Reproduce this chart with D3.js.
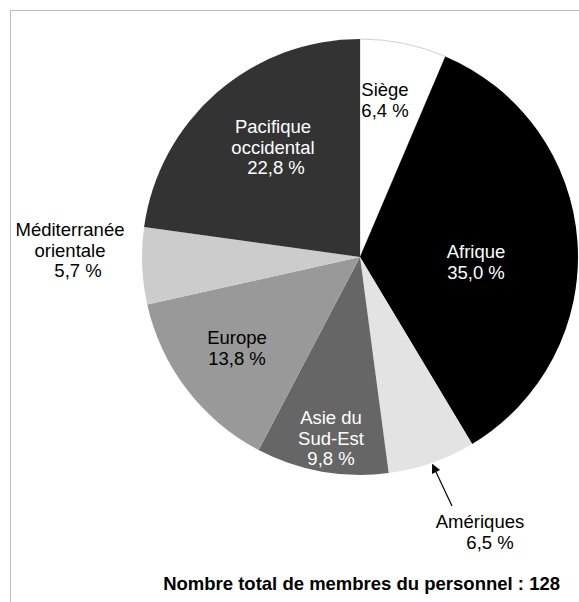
<!DOCTYPE html>
<html>
<head>
<meta charset="utf-8">
<script src="https://cdn.jsdelivr.net/npm/d3@7"></script>
<style>
  body { margin: 0; background: #fff; }
  svg { display: block; font-family: "Liberation Sans", Arial, sans-serif; }
</style>
</head>
<body>
<div id="chart"></div>
<script>
// Regions and share of staff (%)
let regions = ['Siège', 'Afrique', 'Amériques', 'Asie du Sud-Est', 'Europe', 'Méditerranée orientale', 'Pacifique occidental'];
let shares = [6.4, 35.0, 6.5, 9.8, 13.8, 5.7, 22.8];
let labelLines = [
  ['Siège', '6,4 %'],
  ['Afrique', '35,0 %'],
  ['Amériques', '6,5 %'],
  ['Asie du', 'Sud-Est', '9,8 %'],
  ['Europe', '13,8 %'],
  ['Méditerranée', 'orientale', '5,7 %'],
  ['Pacifique', 'occidental', '22,8 %']
];
let fills = ['#ffffff', '#000000', '#e3e3e3', '#666666', '#999999', '#cccccc', '#333333'];
let textColors = ['#000', '#fff', '#000', '#fff', '#000', '#000', '#fff'];
let footer = 'Nombre total de membres du personnel : 128';

let width = 579;
let height = 602;
let cx = 360;
let cy = 257;
let radius = 218;

let svg = d3.select('#chart').append('svg')
  .attr('width', width)
  .attr('height', height);

// frame (only top and left edges show in the window)
svg.append('rect')
  .attr('x', 10.5).attr('y', 10.5)
  .attr('width', width + 20).attr('height', height + 20)
  .attr('fill', 'none')
  .attr('stroke', '#bdbdbd');

let data = regions.map((r, i) => ({ region: r, value: shares[i], i: i }));

let pie = d3.pie().sort(null).value(d => d.value);
let arc = d3.arc().innerRadius(0).outerRadius(radius);
let arcs = pie(data);

let g = svg.append('g').attr('transform', `translate(${cx},${cy})`);

g.selectAll('path')
  .data(arcs)
  .join('path')
  .attr('d', arc)
  .attr('fill', d => fills[d.data.i])
  .attr('stroke', d => d.data.i === 0 ? '#d0d0d0' : 'none')
  .attr('stroke-width', 1);

// label anchors (first line centre), per line x offsets for the odd ones
let labelAt = [
  [385, 90],
  [476, 252],
  [480, 522],
  [331, 418],
  [237, 338],
  [70, 230],
  [273, 127]
];
let lineShift = {
  2: [0, 10],
  5: [0, 0, 8],
  6: [0, 0, 3]
};

let fontSize = 18.5;
let lineH = 20.5;

arcs.forEach(a => {
  let i = a.data.i;
  let x = labelAt[i][0];
  let y = labelAt[i][1];
  let t = svg.append('text')
    .attr('text-anchor', 'middle')
    .attr('font-size', fontSize)
    .attr('fill', textColors[i]);
  labelLines[i].forEach((line, k) => {
    let sx = lineShift[i] ? lineShift[i][k] : 0;
    t.append('tspan')
      .attr('x', x + sx)
      .attr('y', y + k * lineH)
      .attr('dy', '0.35em')
      .text(line);
  });
});

// arrow to Amériques slice
let am = arcs[2];
let amMid = (am.startAngle + am.endAngle) / 2;
let tipX = cx + Math.sin(amMid) * (radius + 2);
let tipY = cy - Math.cos(amMid) * (radius + 2);

svg.append('defs').append('marker')
  .attr('id', 'arrow')
  .attr('viewBox', '0 0 10 10')
  .attr('refX', 9).attr('refY', 5)
  .attr('markerWidth', 12).attr('markerHeight', 9)
  .attr('markerUnits', 'userSpaceOnUse')
  .attr('orient', 'auto')
  .append('path')
  .attr('d', 'M0,0 L10,5 L0,10 z')
  .attr('fill', '#000');

svg.append('line')
  .attr('x1', 452).attr('y1', 506)
  .attr('x2', tipX).attr('y2', tipY)
  .attr('stroke', '#000')
  .attr('stroke-width', 1.2)
  .attr('marker-end', 'url(#arrow)');

svg.append('text')
  .attr('x', 560)
  .attr('y', 584)
  .attr('dy', '0.35em')
  .attr('text-anchor', 'end')
  .attr('font-size', 18.5)
  .attr('font-weight', 'bold')
  .text(footer);
</script>
</body>
</html>
